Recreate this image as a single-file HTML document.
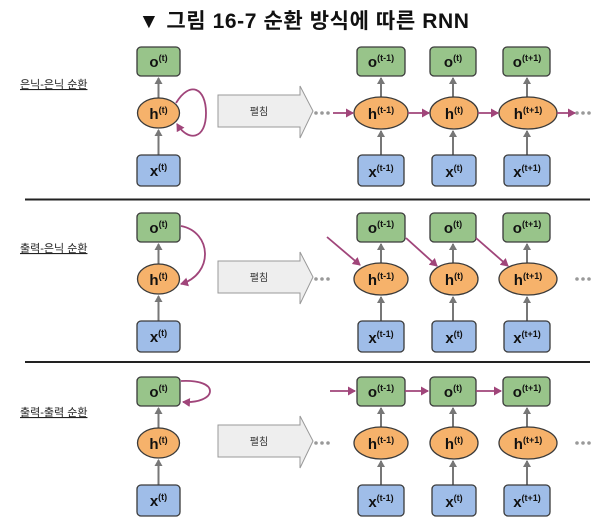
<!DOCTYPE html>
<html><head><meta charset="utf-8"><style>
html,body{margin:0;padding:0;background:#fff;}
svg{display:block;font-family:"Liberation Sans","Noto Sans CJK KR",sans-serif;}
.o{fill:#98c48a;stroke:#3a3a3a;stroke-width:1.3}
.x{fill:#9fbde8;stroke:#3a3a3a;stroke-width:1.3}
.h{fill:#f6b26b;stroke:#3a3a3a;stroke-width:1.3}
.g{stroke:#777;stroke-width:2;fill:none;marker-end:url(#ga)}
.p{stroke:#a0457a;stroke-width:1.8;fill:none;marker-end:url(#pa)}
.t{font-weight:bold;font-size:15px;fill:#111;text-anchor:middle}
.t tspan.s{font-size:9px}
.lb{font-size:11px;fill:#222;text-decoration:underline}
.big{fill:#eee;stroke:#999;stroke-width:1}
.ub{font-size:10px;fill:#333;text-anchor:middle}
.d{fill:#999}
</style></head><body>
<svg width="600" height="532" viewBox="0 0 600 532">
<defs>
<marker id="ga" markerWidth="8" markerHeight="8" refX="6" refY="4" orient="auto" markerUnits="userSpaceOnUse"><path d="M0,0 L7,4 L0,8 Z" fill="#777"/></marker>
<marker id="pa" markerWidth="9" markerHeight="9" refX="7" refY="4.5" orient="auto" markerUnits="userSpaceOnUse"><path d="M0,0 L8,4.5 L0,9 Z" fill="#a0457a"/></marker>
<g id="base">
  <line class="g" x1="158.5" y1="98" x2="158.5" y2="78"/>
  <line class="g" x1="158.5" y1="155" x2="158.5" y2="130"/>
  <rect class="o" x="137" y="47" width="43" height="29" rx="4"/>
  <ellipse class="h" cx="158.5" cy="113" rx="21" ry="15"/>
  <rect class="x" x="137" y="155" width="43" height="31" rx="4"/>
  <text class="t" x="158.5" y="67">o<tspan class="s" dy="-6">(t)</tspan></text>
  <text class="t" x="158.5" y="119">h<tspan class="s" dy="-6">(t)</tspan></text>
  <text class="t" x="158.5" y="176">x<tspan class="s" dy="-6">(t)</tspan></text>
  <polygon class="big" points="218,95 300,95 300,86 313,111 300,138 300,127 218,127"/>
  <text class="ub" x="259" y="115">펼침</text>
  <line class="g" x1="381" y1="97" x2="381" y2="78"/><line class="g" x1="381" y1="155" x2="381" y2="131"/>
  <line class="g" x1="453" y1="97" x2="453" y2="78"/><line class="g" x1="453" y1="155" x2="453" y2="131"/>
  <line class="g" x1="527" y1="97" x2="527" y2="78"/><line class="g" x1="527" y1="155" x2="527" y2="131"/>
  <rect class="o" x="357" y="47" width="48" height="29" rx="4"/>
  <rect class="o" x="430" y="47" width="46" height="29" rx="4"/>
  <rect class="o" x="503" y="47" width="47" height="29" rx="4"/>
  <ellipse class="h" cx="381" cy="113" rx="27" ry="16"/>
  <ellipse class="h" cx="454" cy="113" rx="24" ry="16"/>
  <ellipse class="h" cx="528" cy="113" rx="29" ry="16"/>
  <rect class="x" x="358" y="155" width="46" height="31" rx="4"/>
  <rect class="x" x="432" y="155" width="44" height="31" rx="4"/>
  <rect class="x" x="504" y="155" width="46" height="31" rx="4"/>
  <text class="t" x="381" y="67">o<tspan class="s" dy="-6">(t-1)</tspan></text>
  <text class="t" x="453" y="67">o<tspan class="s" dy="-6">(t)</tspan></text>
  <text class="t" x="527" y="67">o<tspan class="s" dy="-6">(t+1)</tspan></text>
  <text class="t" x="381" y="119">h<tspan class="s" dy="-6">(t-1)</tspan></text>
  <text class="t" x="454" y="119">h<tspan class="s" dy="-6">(t)</tspan></text>
  <text class="t" x="528" y="119">h<tspan class="s" dy="-6">(t+1)</tspan></text>
  <text class="t" x="381" y="177">x<tspan class="s" dy="-6">(t-1)</tspan></text>
  <text class="t" x="454" y="177">x<tspan class="s" dy="-6">(t)</tspan></text>
  <text class="t" x="527" y="177">x<tspan class="s" dy="-6">(t+1)</tspan></text>
  <circle class="d" cx="316" cy="113" r="1.8"/><circle class="d" cx="322" cy="113" r="1.8"/><circle class="d" cx="328" cy="113" r="1.8"/>
  <circle class="d" cx="577" cy="113" r="1.8"/><circle class="d" cx="583" cy="113" r="1.8"/><circle class="d" cx="589" cy="113" r="1.8"/>
</g>
</defs>

<text x="304" y="28" text-anchor="middle" font-size="21" font-weight="bold" fill="#111" letter-spacing="0.6">▼  그림 16-7 순환 방식에 따른 RNN</text>

<use href="#base"/>
<text class="lb" x="20" y="88">은닉-은닉 순환</text>
<path class="p" d="M176,103 C190,80 206,88 206,113 C206,140 188,142 177,124"/>
<line class="p" x1="333" y1="113" x2="353" y2="113"/>
<line class="p" x1="408" y1="113" x2="429" y2="113"/>
<line class="p" x1="478" y1="113" x2="498" y2="113"/>
<line class="p" x1="557" y1="113" x2="575" y2="113"/>
<line x1="25" y1="199.5" x2="590" y2="199.5" stroke="#222" stroke-width="2"/>

<g transform="translate(0,166)">
<use href="#base"/>
<text class="lb" x="20" y="86">출력-은닉 순환</text>
<path class="p" d="M181,60 C212,66 214,108 181,118"/>
<line class="p" x1="327" y1="71" x2="360" y2="99"/>
<line class="p" x1="406" y1="72" x2="437" y2="100"/>
<line class="p" x1="476" y1="72" x2="508" y2="100"/>
</g>
<line x1="25" y1="362" x2="590" y2="362" stroke="#222" stroke-width="2"/>

<g transform="translate(0,330)">
<use href="#base"/>
<text class="lb" x="20" y="86">출력-출력 순환</text>
<path class="p" d="M181,51 C200,50 210,55 210,61 C210,68 198,73 183,72"/>
<line class="p" x1="330" y1="61" x2="355" y2="61"/>
<line class="p" x1="405" y1="61" x2="428" y2="61"/>
<line class="p" x1="476" y1="61" x2="501" y2="61"/>
</g>
</svg>
</body></html>
